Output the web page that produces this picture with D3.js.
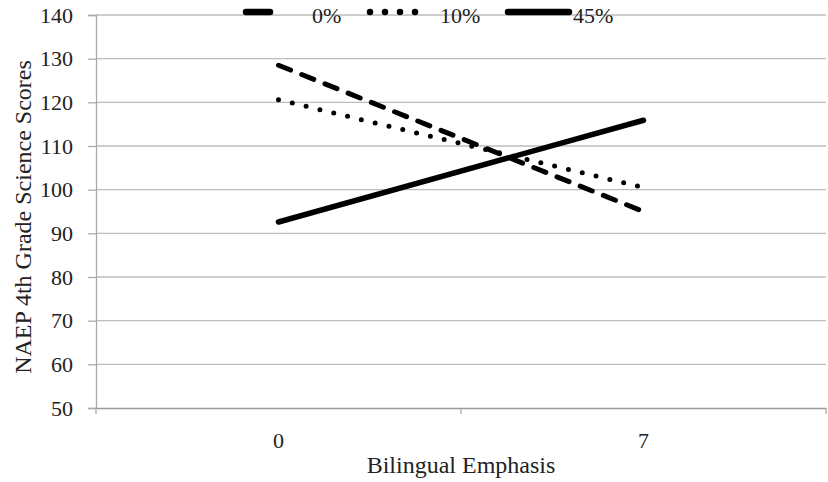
<!DOCTYPE html>
<head>
<meta charset="utf-8">
<style>
  body { margin:0; background:#fff; }
  text { font-family:"Liberation Serif", "Times New Roman", serif; fill:#222; }
</style>
</head>
<script src="https://d3js.org/d3.v7.min.js"></script>
<div id="my_dataviz"></div>
<script>
// data
var categories = ["0", "7"];
var seriesNames = ["0%", "10%", "45%"];
var values0 = [128.5, 95.0];
var values10 = [120.6, 100.5];
var values45 = [92.6, 115.9];
var yTicks = [50, 60, 70, 80, 90, 100, 110, 120, 130, 140];

var series = [
  {name: seriesNames[0], vals: values0, dash: "13,12", legDash: "24,28", w: 5},
  {name: seriesNames[1], vals: values10, dash: "0,14.2", legDash: "0,15", w: 5},
  {name: seriesNames[2], vals: values45, dash: null, legDash: null, w: 5.5}
];

var W = 828, H = 482;
var margin = {top: 15, right: 2, bottom: 74, left: 96};
var width = W - margin.left - margin.right,
    height = H - margin.top - margin.bottom;

var svg = d3.select("#my_dataviz").append("svg")
    .attr("width", W).attr("height", H);
var g = svg.append("g")
    .attr("transform", "translate(" + margin.left + "," + margin.top + ")");

var x = d3.scaleBand().domain(categories).range([0, width]);
var y = d3.scaleLinear().domain([50, 140]).range([height, 0]);

// gridlines
g.selectAll(".grid").data(yTicks.slice(1)).enter().append("line")
  .attr("x1", 0).attr("x2", width)
  .attr("y1", d => y(d)).attr("y2", d => y(d))
  .attr("stroke", "#bdbdbd").attr("stroke-width", 1.3);

// y axis
var yAxis = g.append("g").call(d3.axisLeft(y).tickValues(yTicks).tickSize(8).tickPadding(15));
yAxis.select(".domain").attr("stroke", "#aaa").attr("stroke-width", 1.3);
yAxis.selectAll(".tick line").attr("stroke", "#aaa").attr("stroke-width", 1.3);
yAxis.selectAll("text").style("font-size", "22px").attr("fill", "#222");

// x axis
var xAxis = g.append("g").attr("transform", "translate(0," + height + ")")
  .call(d3.axisBottom(x).tickSize(0).tickPadding(24));
xAxis.select(".domain").attr("stroke", "#999").attr("stroke-width", 1.6);
xAxis.selectAll("text").style("font-size", "22px").attr("fill", "#222");
xAxis.selectAll(".sep").data([0, x.bandwidth(), width]).enter().append("line")
  .attr("x1", d => d).attr("x2", d => d).attr("y1", 0).attr("y2", 6)
  .attr("stroke", "#aaa").attr("stroke-width", 1.3);

// axis titles
svg.append("text").attr("x", margin.left + width / 2).attr("y", 473)
  .attr("text-anchor", "middle").style("font-size", "24px").text("Bilingual Emphasis");
svg.append("text").attr("transform", "translate(31," + 217 + ") rotate(-90)")
  .attr("text-anchor", "middle").style("font-size", "24px").text("NAEP 4th Grade Science Scores");

// lines
var line = d3.line()
  .x((d, i) => x(categories[i]) + x.bandwidth() / 2)
  .y(d => y(d));
series.forEach(function(s) {
  g.append("path").datum(s.vals)
    .attr("fill", "none").attr("stroke", "#000")
    .attr("stroke-width", s.w)
    .attr("stroke-linecap", "round")
    .attr("stroke-dasharray", s.dash)
    .attr("d", line);
});

// legend
var legX = [246, 370, 508];
var legLen = [51, 60, 61];
var legTextX = [312, 440, 573];
series.forEach(function(s, i) {
  svg.append("line")
    .attr("x1", legX[i]).attr("x2", legX[i] + legLen[i])
    .attr("y1", 12).attr("y2", 12)
    .attr("stroke", "#000").attr("stroke-width", 6.5)
    .attr("stroke-linecap", "round")
    .attr("stroke-dasharray", s.legDash);
  svg.append("text").attr("x", legTextX[i]).attr("y", 23)
    .style("font-size", "22px").text(s.name);
});
</script>
